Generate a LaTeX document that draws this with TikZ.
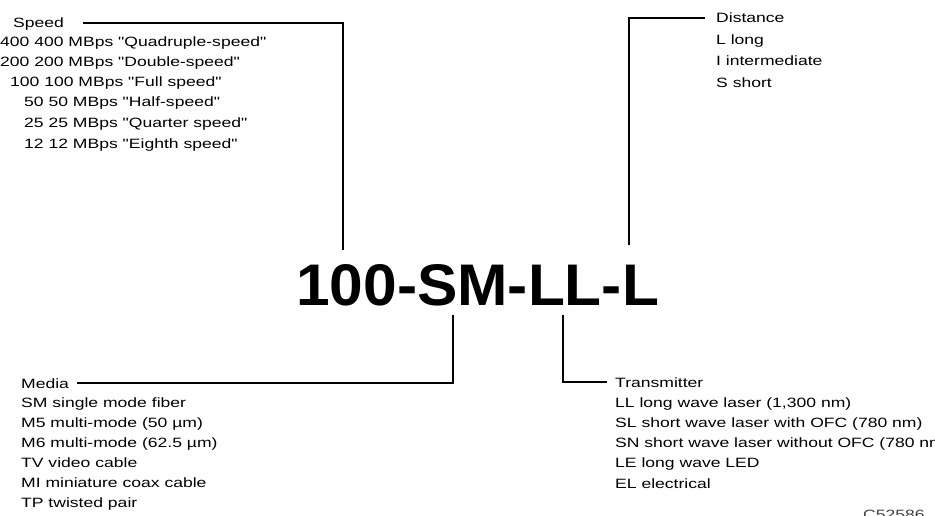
\documentclass[tikz,border=0pt]{standalone}
\usepackage{fontspec}
\newfontfamily\keyfont{Liberation Sans}[FakeStretch=1.3, Ligatures=TeXOff]
\newfontfamily\codefont{Liberation Sans}[FakeStretch=1.03]

\begin{document}
\begin{tikzpicture}[x=1pt, y=-1pt,
    entry/.style={font=\keyfont\fontsize{13.5}{16}\selectfont, inner sep=0pt, anchor=base west},
    head/.style={entry, text height=10pt, text depth=0pt}]
  \useasboundingbox (0, 0) rectangle (935, 516);

  \node[font=\codefont\bfseries\fontsize{58.7}{60}\selectfont, inner sep=0pt, anchor=base west] (code) at (296, 305) {100-SM-LL-L};

  % where the leaders meet the code
  \coordinate (speedTap) at (343, 250);
  \coordinate (distTap) at (629, 245);
  \coordinate (mediaTap) at (453, 315);
  \coordinate (transTap) at (563, 315);

  % speed
  \node[head] (speed) at (13, 28) {Speed};
  \node[entry] (spd400) at (0, 47) {400 400 MBps "Quadruple-speed"};
  \node[entry] (spd200) at (0, 67) {200 200 MBps "Double-speed"};
  \node[entry] (spd100) at (10, 87) {100 100 MBps "Full speed"};
  \node[entry] (spd50) at (24, 107) {50 50 MBps "Half-speed"};
  \node[entry] (spd25) at (24, 128) {25 25 MBps "Quarter speed"};
  \node[entry] (spd12) at (24, 149) {12 12 MBps "Eighth speed"};

  % distance
  \node[head] (dist) at (716, 23) {Distance};
  \node[entry] (distL) at (716, 45) {L long};
  \node[entry] (distI) at (716, 66) {I intermediate};
  \node[entry] (distS) at (716, 88) {S short};

  % media
  \node[head] (media) at (21, 388) {Media};
  \node[entry] (medSM) at (21, 407) {SM single mode fiber};
  \node[entry] (medM5) at (21, 427) {M5 multi-mode (50 µm)};
  \node[entry] (medM6) at (21, 447) {M6 multi-mode (62.5 µm)};
  \node[entry] (medTV) at (21, 467) {TV video cable};
  \node[entry] (medMI) at (21, 487) {MI miniature coax cable};
  \node[entry] (medTP) at (21, 507) {TP twisted pair};

  % transmitter
  \node[head] (trans) at (615, 387) {Transmitter};
  \node[entry] (txLL) at (615, 407) {LL long wave laser (1,300 nm)};
  \node[entry] (txSL) at (615, 427) {SL short wave laser with OFC (780 nm)};
  \node[entry] (txSN) at (615, 447) {SN short wave laser without OFC (780 nm)};
  \node[entry] (txLE) at (615, 467) {LE long wave LED};
  \node[entry] (txEL) at (615, 488) {EL electrical};

  \node[entry, text=black!75] (figId) at (863, 519) {C52586};

  \draw[line width=1.3pt] ([xshift=19pt]speed.east) -| (speedTap);
  \draw[line width=1.3pt] ([xshift=-11pt]dist.west) -| (distTap);
  \draw[line width=1.3pt] ([xshift=8pt]media.east) -| (mediaTap);
  \draw[line width=1.3pt] ([xshift=-8pt]trans.west) -| (transTap);
\end{tikzpicture}
\end{document}
